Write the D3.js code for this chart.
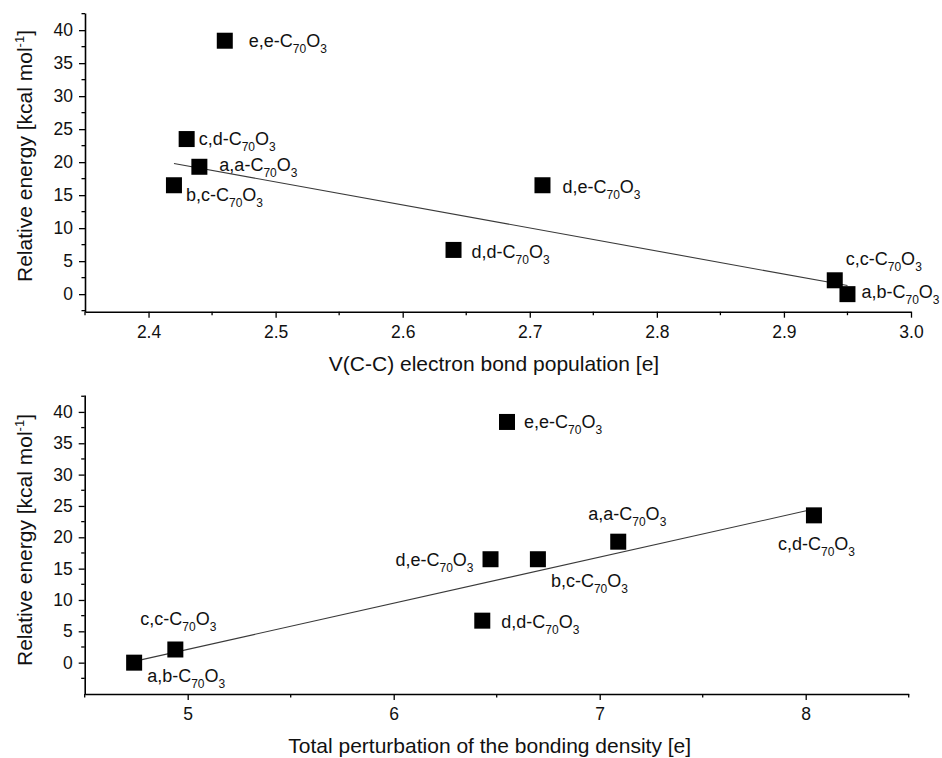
<!DOCTYPE html>
<html>
<head>
<meta charset="utf-8">
<script src="https://cdn.jsdelivr.net/npm/d3@7"></script>
<style>
  html, body { margin: 0; padding: 0; background: #ffffff; }
  svg { display: block; }
  text { font-family: Arial, "Liberation Sans", sans-serif; fill: #111; }
</style>
</head>
<body>
<svg id="chart" width="942" height="758"></svg>
<script>
// ---------------- DATA ----------------
const isomers = ["e,e", "c,d", "a,a", "b,c", "d,e", "d,d", "c,c", "a,b"];
const relEnergy = [38.4, 23.5, 19.3, 16.5, 16.5, 6.7, 2.1, 0.0];          // kcal/mol
const bondPopulation = [2.46, 2.43, 2.44, 2.42, 2.71, 2.64, 2.94, 2.95];   // V(C-C) [e]
const perturbation = [6.55, 8.04, 7.09, 6.70, 6.47, 6.43, 4.94, 4.74];     // total perturbation [e]

const fitTopX = [2.42, 2.95];
const fitTopY = [19.8, 1.3];
const fitBottomX = [4.74, 8.04];
const fitBottomY = [0.2, 24.5];

const topXTicks = [2.4, 2.5, 2.6, 2.7, 2.8, 2.9, 3.0];
const bottomXTicks = [5, 6, 7, 8];
const yTicks = [0, 5, 10, 15, 20, 25, 30, 35, 40];

const topXTitle = "V(C-C) electron bond population [e]";
const bottomXTitle = "Total perturbation of the bonding density [e]";

// ---------------- LAYOUT (not data) ----------------
// label offsets relative to marker centre: [dx, dy, anchor]
const topLabelPos = [[24, 6, "start"], [12, 6, "start"], [20, 4, "start"], [12, 16, "start"],
                     [20, 8, "start"], [18, 8, "start"], [11, -15, "start"], [14, 4, "start"]];
const bottomLabelPos = [[17, 6, "start"], [-36, 35, "start"], [-30, -22, "start"], [13, 28, "start"],
                        [-17, 7, "end"], [19, 7, "start"], [-35, -24, "start"], [13, 19, "start"]];

const svg = d3.select("#chart");

function panel(cfg) {
  const x = d3.scaleLinear().domain(cfg.xDomain).range(cfg.xRange);
  const y = d3.scaleLinear().domain(cfg.yDomain).range(cfg.yRange);
  const g = svg.append("g");
  const axisY0 = cfg.yRange[0], axisX0 = cfg.xRange[0];

  // minor ticks
  const xMinor = d3.range(cfg.xDomain[0], cfg.xDomain[1] + 1e-9, cfg.xMinorStep)
    .filter(v => !cfg.xTicks.some(t => Math.abs(t - v) < 1e-6));
  const yMinor = d3.range(-2.5, cfg.yDomain[1], 2.5)
    .filter(v => v >= cfg.yDomain[0] && !yTicks.includes(v));

  const xAx = g.append("g").attr("transform", `translate(0,${axisY0})`)
    .call(d3.axisBottom(x).tickValues(cfg.xTicks).tickFormat(cfg.xFormat)
      .tickSize(6).tickSizeOuter(0).tickPadding(8));
  xAx.append("g").selectAll("line").data(xMinor).join("line")
    .attr("x1", d => x(d)).attr("x2", d => x(d)).attr("y1", 0).attr("y2", 3.5)
    .attr("stroke", "#000").attr("stroke-width", 1.3);

  const yAx = g.append("g").attr("transform", `translate(${axisX0},0)`)
    .call(d3.axisLeft(y).tickValues(yTicks).tickFormat(d3.format("d"))
      .tickSize(6).tickSizeOuter(0).tickPadding(6));
  yAx.append("g").selectAll("line").data(yMinor).join("line")
    .attr("y1", d => y(d)).attr("y2", d => y(d)).attr("x1", 0).attr("x2", -3.5)
    .attr("stroke", "#000").attr("stroke-width", 1.3);

  [xAx, yAx].forEach(a => {
    a.select(".domain").attr("stroke", "#000").attr("stroke-width", 1.6);
    a.selectAll(".tick line").attr("stroke", "#000").attr("stroke-width", 1.3);
    a.selectAll(".tick text").style("font-size", "17.5px")
      .style("font-family", "Arial, 'Liberation Sans', sans-serif").attr("fill", "#111");
  });

  // axis titles
  g.append("text").attr("x", (cfg.xRange[0] + cfg.xRange[1]) / 2 + cfg.xTitleShift)
    .attr("y", axisY0 + 59).attr("text-anchor", "middle")
    .style("font-size", "21px").text(cfg.xTitle);

  const yt = g.append("text")
    .attr("transform", `translate(32,${cfg.yTitleCenter}) rotate(-90)`)
    .attr("text-anchor", "middle").style("font-size", "21px");
  yt.append("tspan").text("Relative energy [kcal mol");
  yt.append("tspan").attr("dy", -8).style("font-size", "13px").text("-1");
  yt.append("tspan").attr("dy", 8).text("]");

  // fit line
  g.append("path")
    .datum(d3.zip(cfg.fitX, cfg.fitY))
    .attr("d", d3.line().x(d => x(d[0])).y(d => y(d[1])))
    .attr("fill", "none").attr("stroke", "#3a3a3a").attr("stroke-width", 1.1);

  // markers
  const pts = cfg.xs.map((v, i) => ({ x: v, y: relEnergy[i], name: isomers[i], pos: cfg.labelPos[i] }));
  const sq = 16;
  g.selectAll("rect.pt").data(pts).join("rect").attr("class", "pt")
    .attr("x", d => x(d.x) - sq / 2).attr("y", d => y(d.y) - sq / 2)
    .attr("width", sq).attr("height", sq).attr("fill", "#000");

  // labels
  const lab = g.selectAll("text.lab").data(pts).join("text").attr("class", "lab")
    .attr("x", d => x(d.x) + d.pos[0]).attr("y", d => y(d.y) + d.pos[1])
    .attr("text-anchor", d => d.pos[2]).style("font-size", "18px");
  lab.append("tspan").text(d => d.name + "-C");
  lab.append("tspan").attr("dy", 6).style("font-size", "12px").text("70");
  lab.append("tspan").attr("dy", -6).text("O");
  lab.append("tspan").attr("dy", 6).style("font-size", "12px").text("3");
}

panel({
  xDomain: [2.35, 3.0], xRange: [85, 911],
  yDomain: [-2.66, 42.6], yRange: [311.7, 13],
  xTicks: topXTicks, xMinorStep: 0.05, xFormat: d3.format(".1f"),
  xs: bondPopulation, fitX: fitTopX, fitY: fitTopY,
  labelPos: topLabelPos, xTitle: topXTitle, xTitleShift: -4, yTitleCenter: 156
});

panel({
  xDomain: [4.5, 8.5], xRange: [84.7, 908.7],
  yDomain: [-5, 42.7], yRange: [694, 395],
  xTicks: bottomXTicks, xMinorStep: 0.5, xFormat: d3.format("d"),
  xs: perturbation, fitX: fitBottomX, fitY: fitBottomY,
  labelPos: bottomLabelPos, xTitle: bottomXTitle, xTitleShift: -7, yTitleCenter: 540
});
</script>
</body>
</html>
